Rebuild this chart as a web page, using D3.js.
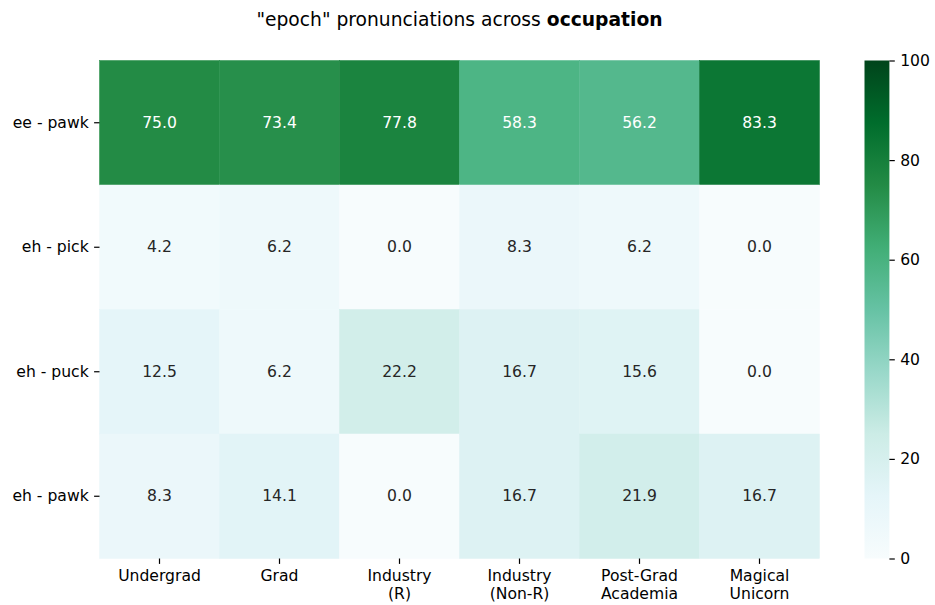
<!DOCTYPE html>
<html><head><meta charset="utf-8">
<script src="https://cdn.jsdelivr.net/npm/d3@7"></script>
<style>body{margin:0;background:#fff;} text{font-family:"DejaVu Sans",sans-serif;}</style>
</head><body>
<svg id="c" width="935" height="605"></svg>
<script>
const rows = ["ee - pawk", "eh - pick", "eh - puck", "eh - pawk"];
const cols = [["Undergrad"], ["Grad"], ["Industry", "(R)"], ["Industry", "(Non-R)"], ["Post-Grad", "Academia"], ["Magical", "Unicorn"]];
const valEePawk = [75.0, 73.4, 77.8, 58.3, 56.2, 83.3];
const valEhPick = [4.2, 6.2, 0.0, 8.3, 6.2, 0.0];
const valEhPuck = [12.5, 6.2, 22.2, 16.7, 15.6, 0.0];
const valEhPawk = [8.3, 14.1, 0.0, 16.7, 21.9, 16.7];
const values = [valEePawk, valEhPick, valEhPuck, valEhPawk];
const cbTicks = [0, 20, 40, 60, 80, 100];
const bugn = ["#f7fcfd","#e5f5f9","#ccece6","#99d8c9","#66c2a4","#41ae76","#238b45","#006d2c","#00441b"];

const svg = d3.select("#c");
const L = 99.5, R = 819.5, T = 60.5, B = 558.5;
const fs = 15.6;
const x = d3.scaleBand().domain(d3.range(cols.length)).range([L, R]);
const y = d3.scaleBand().domain(d3.range(rows.length)).range([T, B]);
const color = d3.scaleLinear().domain(bugn.map((_, i) => i * 100 / (bugn.length - 1))).range(bugn).interpolate(d3.interpolateRgb).clamp(true);

function lum(c) {
  const rgb = d3.rgb(c);
  const f = v => { v /= 255; return v <= 0.03928 ? v / 12.92 : Math.pow((v + 0.055) / 1.055, 2.4); };
  return 0.2126 * f(rgb.r) + 0.7152 * f(rgb.g) + 0.0722 * f(rgb.b);
}

const cells = [];
values.forEach((row, r) => row.forEach((v, c) => cells.push({r, c, v})));
const g = svg.append("g");
g.selectAll("rect").data(cells).join("rect")
  .attr("x", d => x(d.c)).attr("y", d => y(d.r))
  .attr("width", x.bandwidth()).attr("height", y.bandwidth())
  .attr("fill", d => color(d.v)).attr("stroke", d => color(d.v)).attr("stroke-width", 0.5);
g.selectAll("text").data(cells).join("text")
  .attr("x", d => x(d.c) + x.bandwidth() / 2).attr("y", d => y(d.r) + y.bandwidth() / 2)
  .attr("text-anchor", "middle").attr("dominant-baseline", "central")
  .attr("font-size", fs)
  .attr("fill", d => lum(color(d.v)) < 0.408 ? "#ffffff" : "#262626")
  .text(d => d.v.toFixed(1));

// x axis
const xa = svg.append("g").attr("transform", `translate(0,${B})`);
cols.forEach((lab, i) => {
  const cx = x(i) + x.bandwidth() / 2;
  xa.append("line").attr("x1", cx).attr("x2", cx).attr("y1", 0).attr("y2", 5.4).attr("stroke", "#000").attr("stroke-width", 1.2);
  lab.forEach((s, k) => xa.append("text").attr("x", cx).attr("y", 10.8 + 12 + k * 18)
    .attr("text-anchor", "middle").attr("font-size", fs).attr("fill", "#000").text(s));
});
// y axis
const ya = svg.append("g").attr("transform", `translate(${L},0)`);
rows.forEach((lab, i) => {
  const cy = y(i) + y.bandwidth() / 2;
  ya.append("line").attr("x1", -5.4).attr("x2", 0).attr("y1", cy).attr("y2", cy).attr("stroke", "#000").attr("stroke-width", 1.2);
  ya.append("text").attr("x", -10.8).attr("y", cy).attr("dominant-baseline", "central")
    .attr("text-anchor", "end").attr("font-size", fs).attr("fill", "#000").text(lab);
});

// colorbar
const cbL = 864.5, cbW = 24.9;
const cy = d3.scaleLinear().domain([0, 100]).range([B, T]);
const defs = svg.append("defs");
const grad = defs.append("linearGradient").attr("id", "cbg").attr("x1", 0).attr("y1", 1).attr("x2", 0).attr("y2", 0);
bugn.forEach((c, i) => grad.append("stop").attr("offset", i / (bugn.length - 1)).attr("stop-color", c));
svg.append("rect").attr("x", cbL).attr("y", T).attr("width", cbW).attr("height", B - T).attr("fill", "url(#cbg)");
const cba = svg.append("g").attr("transform", `translate(${cbL + cbW},0)`);
cba.call(d3.axisRight(cy).tickValues(cbTicks).tickSize(5.4).tickPadding(5.4).tickFormat(d3.format("d")));
cba.select(".domain").remove();
cba.selectAll("line").attr("stroke", "#000").attr("stroke-width", 1.2);
cba.selectAll("text").attr("font-size", fs).attr("fill", "#000").attr("font-family", "DejaVu Sans");

// title
const t = svg.append("text").attr("x", (L + R) / 2).attr("y", 26).attr("text-anchor", "middle").attr("font-size", 18.7).attr("fill", "#000");
t.append("tspan").text('"epoch" pronunciations across ');
t.append("tspan").attr("font-weight", "bold").text("occupation");
</script>
</body></html>
